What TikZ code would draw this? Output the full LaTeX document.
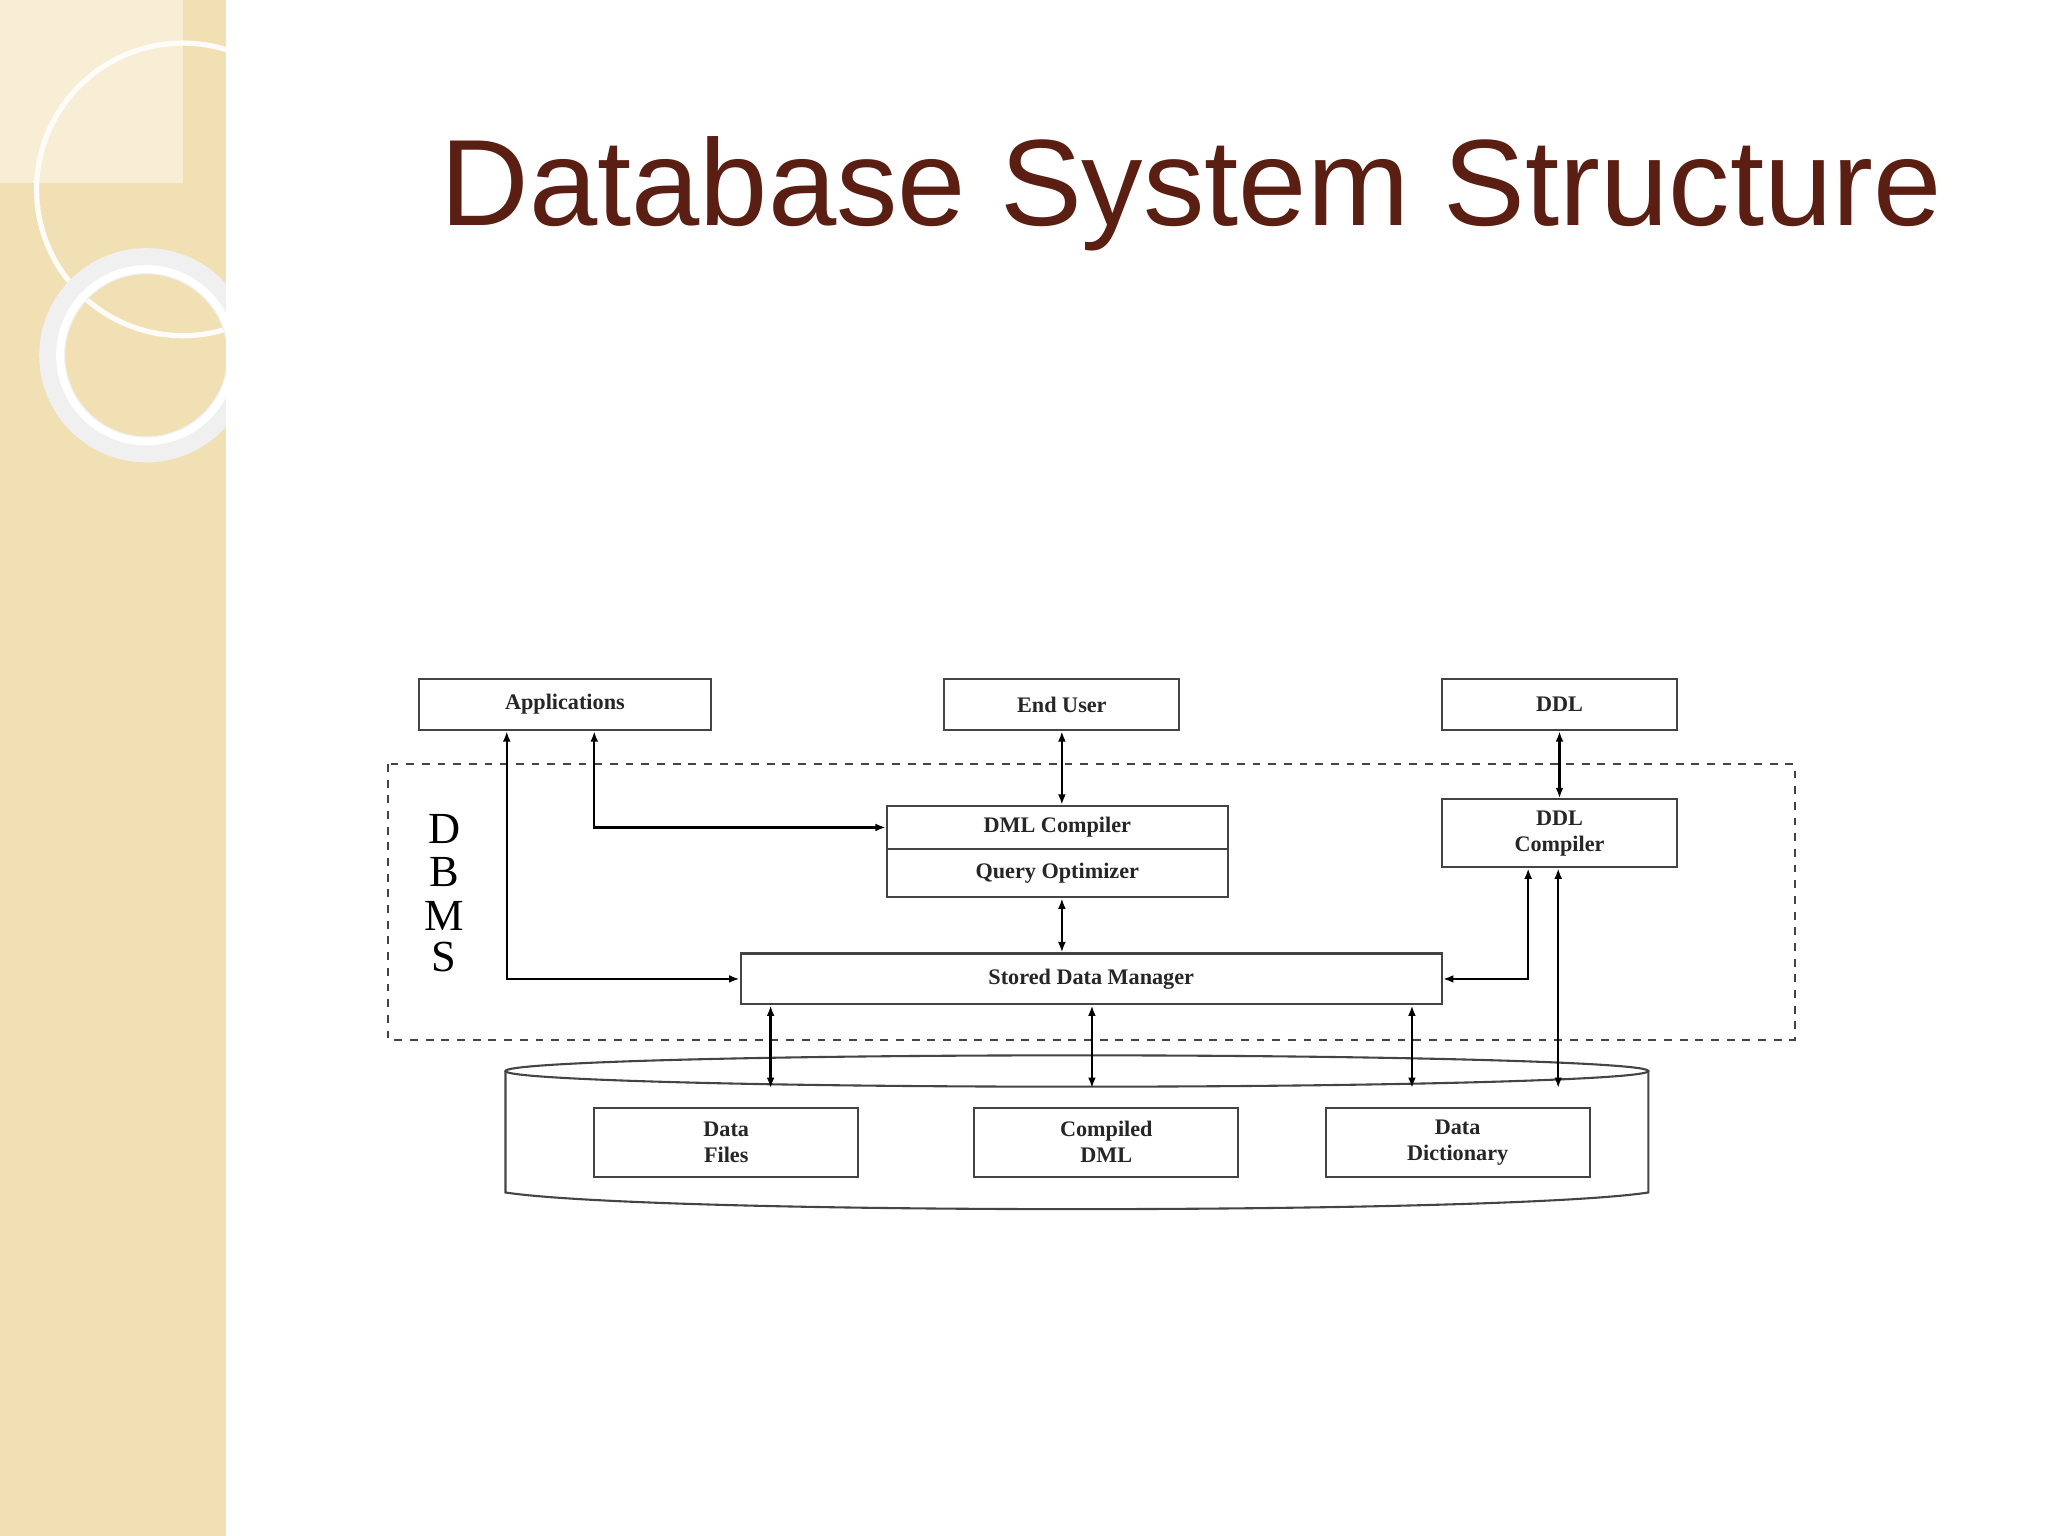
\documentclass[tikz,border=0pt]{standalone}
\usepackage{fontspec}
\setmainfont{Liberation Serif}
\newfontfamily\titlefont{Liberation Sans}
\usetikzlibrary{arrows.meta}
\definecolor{beige}{HTML}{F2E0B5}
\definecolor{titlec}{HTML}{5A1E12}
\definecolor{ln}{HTML}{444444}
\begin{document}
\begin{tikzpicture}[x=0.5pt,y=-0.5pt,
  box/.style={draw=ln,line width=0.8pt,inner sep=0pt,font=\bfseries\fontsize{8.5}{10}\selectfont,align=center,text=black!85},
  ar/.style={draw=black,line width=0.9pt,{Latex[length=4pt,width=3pt]}-{Latex[length=4pt,width=3pt]}},
  lab/.style={font=\fontsize{17}{17}\selectfont}]
\useasboundingbox (0,0) rectangle (1568,1176);
\fill[white] (0,0) rectangle (1568,1176);
% left strip
\fill[beige] (0,0) rectangle (173,1176);
\fill[beige!55!white] (0,0) rectangle (140,140);
\begin{scope}
\clip (0,0) rectangle (173,1176);
\draw[white!90!beige,line width=2pt] (140,145) circle (112);
\draw[white!88!gray,line width=10pt] (112,272) circle (72);
\draw[white,line width=3pt] (112,272) circle (66);
\end{scope}
% title
\node[font=\titlefont\fontsize{47}{47}\selectfont,text=titlec] (title) at (912,148) {Database System Structure};
% top boxes
\node[box,minimum width=112pt,minimum height=19.5pt] (app) at (432.5,539.5) {Applications};
\node[box,minimum width=90pt,minimum height=19.5pt] (eu) at (813,539.5) {End User};
\node[box,minimum width=90pt,minimum height=19.5pt] (ddl) at (1194,539.5) {DDL};
% dbms dashed
\draw[ln,dashed,line width=0.8pt] (297,585) rectangle (1374,796);
\foreach \l/\yy in {D/635,B/668,M/701,S/733} \node[lab] (L\l) at (340,\yy) {\l};
% DML compiler
\node[box,minimum width=130.5pt,minimum height=16.5pt] (dml) at (809.5,633.5) {DML Compiler};
\node[box,minimum width=130.5pt,minimum height=18.5pt] (qo) at (809.5,668.5) {Query Optimizer};
\node[box,minimum width=90pt,minimum height=26pt] (ddlc) at (1194,638) {DDL\\Compiler};
\node[box,minimum width=268.5pt,minimum height=19.5pt] (sdm) at (835.5,749.5) {Stored Data Manager};
% cylinder
\draw[ln,line width=0.8pt] (387,820) -- (387,913) .. controls (500,930) and (1150,930) .. (1262,913) -- (1262,820);
\draw[ln,line width=0.8pt] (824.5,820) ellipse (437.5 and 12);
\node[box,minimum width=101pt,minimum height=26.5pt] (df) at (556,874.5) {Data\\Files};
\node[box,minimum width=101pt,minimum height=26.5pt] (cd) at (847,874.5) {Compiled\\DML};
\node[box,minimum width=101pt,minimum height=26.5pt] (dd) at (1116,874.5) {Data\\Dictionary};
\coordinate (c1) at (590,833);
\coordinate (c2) at (836,833);
\coordinate (c3) at (1081,833);
\coordinate (c4) at (1193,833);
% arrows
\draw[ar] (eu.south) -- (dml.north -| eu.south);
\draw[ar] (ddl.south) -- (ddlc.north);
\draw[ar] (app.south -| 455,0) |- (dml.west);
\draw[ar] (app.south -| 388,0) |- (sdm.west);
\draw[ar] (qo.south -| 813,0) -- (sdm.north -| 813,0);
\draw[ar] (ddlc.south -| 1170,0) |- (sdm.east);
\draw[ar] (ddlc.south -| 1193,0) -- (c4);
\draw[ar] (sdm.south -| c1) -- (c1);
\draw[ar] (sdm.south -| c2) -- (c2);
\draw[ar] (sdm.south -| c3) -- (c3);
\end{tikzpicture}
\end{document}
